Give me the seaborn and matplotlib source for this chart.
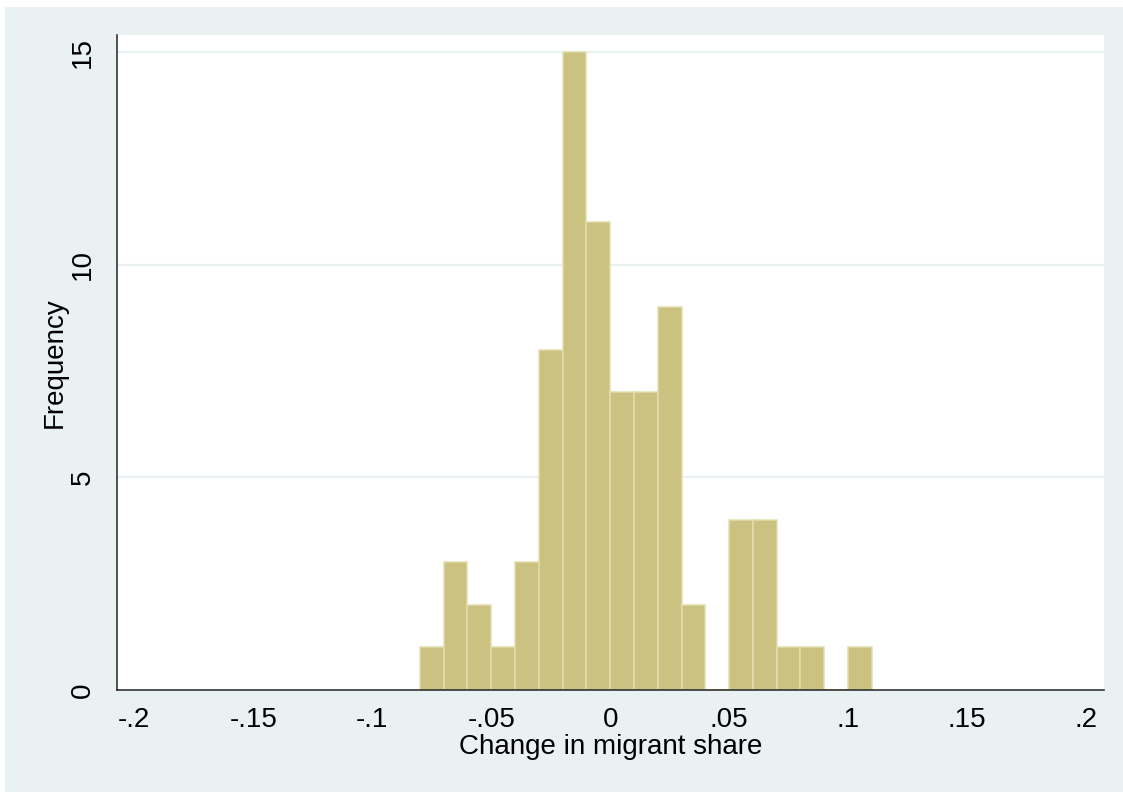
import numpy as np
import pandas as pd
import matplotlib
matplotlib.use("Agg")
import matplotlib.pyplot as plt
from matplotlib.patches import Rectangle
import seaborn as sns

# Histogram of the change in migrant share, bins of width 0.01
bin_left = [-0.08, -0.07, -0.06, -0.05, -0.04, -0.03, -0.02, -0.01, 0.00,
            0.01, 0.02, 0.03, 0.04, 0.05, 0.06, 0.07, 0.08, 0.09, 0.10]
counts = [1, 3, 2, 1, 3, 8, 15, 11, 7, 7, 9, 2, 0, 4, 4, 1, 1, 0, 1]
x_ticks = [-0.2, -0.15, -0.1, -0.05, 0, 0.05, 0.1, 0.15, 0.2]
x_tick_labels = ["-.2", "-.15", "-.1", "-.05", "0", ".05", ".1", ".15", ".2"]
y_ticks = [0, 5, 10, 15]
y_tick_labels = ["0", "5", "10", "15"]

bin_width = 0.01
edges = [float(e) for e in np.round(np.append(bin_left, bin_left[-1] + bin_width), 3)]
df = pd.DataFrame({"share": np.array(bin_left) + bin_width / 2, "n": counts})

sns.set_theme(style="white")
plt.rcParams["font.family"] = ["Liberation Sans", "DejaVu Sans"]

W, H = 1123, 792
fig = plt.figure(figsize=(W / 100, H / 100), dpi=100, facecolor="white")
bg = "#EAF1F3"
fig.patches.append(Rectangle((5 / W, 0), 1, 1 - 7 / H, transform=fig.transFigure,
                             facecolor=bg, edgecolor="none", zorder=-10))

left, right, top, bottom = 117, 1104, 35, 690
ax = fig.add_axes([left / W, 1 - bottom / H, (right - left) / W, (bottom - top) / H])
ax.set_facecolor("white")

for y in [5, 10, 15]:
    ax.axhline(y, color=bg, lw=1.6, zorder=0)

sns.histplot(data=df, x="share", weights="n", bins=edges, ax=ax,
             color="#CBC282", alpha=1, edgecolor="#E2DEAD", linewidth=1.1,
             zorder=2)

ax.set_xlim(-0.2073, 0.2076)
ax.set_ylim(0, 15.4)
ax.set_xticks(x_ticks)
ax.set_xticklabels(x_tick_labels)
ax.set_yticks(y_ticks)
ax.set_yticklabels(y_tick_labels, rotation=90, va="center")

for side in ["top", "right"]:
    ax.spines[side].set_visible(False)
for side in ["left", "bottom"]:
    ax.spines[side].set_color("#222222")
    ax.spines[side].set_linewidth(1.1)

ax.tick_params(axis="both", which="major", direction="out", length=8, width=1.1,
               color="#222222", labelsize=20, labelcolor="black", pad=4)
ax.tick_params(axis="y", pad=7)
ax.set_xlabel("Change in migrant share", fontsize=20, color="black", labelpad=1)
ax.set_ylabel("Frequency", fontsize=20, color="black", labelpad=2)

fig.savefig("out.png", dpi=100, facecolor=fig.get_facecolor())
